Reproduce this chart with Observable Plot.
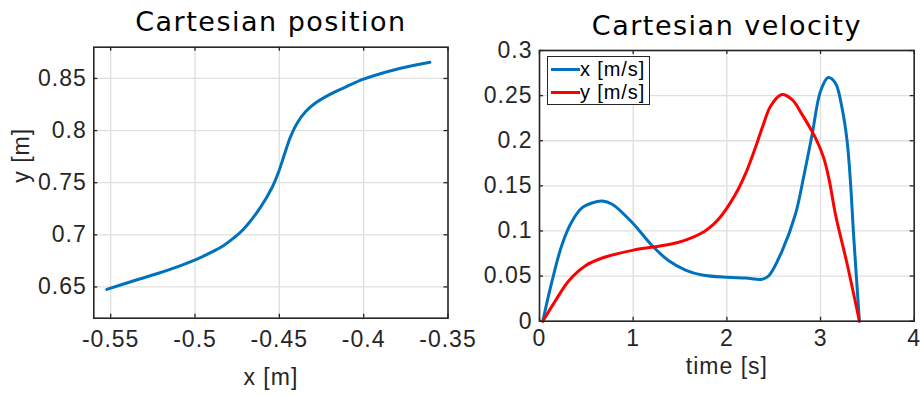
<!DOCTYPE html>
<html><head><meta charset="utf-8">
<script src="https://cdn.jsdelivr.net/npm/d3@7"></script>
<script src="https://cdn.jsdelivr.net/npm/@observablehq/plot@0.6"></script>
<style>
html,body{margin:0;padding:0;background:#fff;}
#wrap{position:relative;width:920px;height:396px;overflow:hidden;background:#fff;}
#wrap svg{position:absolute;left:0;top:0;}
.legend{position:absolute;left:547px;top:55.5px;width:103px;height:49.5px;box-sizing:border-box;border:1.5px solid #262626;background:#fff;font-family:'Liberation Sans',Arial,sans-serif;font-size:20px;letter-spacing:0.9px;color:#000;}
.legend .row{position:absolute;left:0;height:23px;}
.legend .sw{position:absolute;left:2.5px;width:29px;height:3px;}
.legend .lb{position:absolute;left:32px;white-space:nowrap;line-height:23px;}
</style></head><body><div id="wrap"></div>
<script>
// ---- data ----
const titles = ["Cartesian position", "Cartesian velocity"];
const posXLabel = "x [m]";
const posYLabel = "y [m]";
const timeLabel = "time [s]";
const seriesNames = ["x [m/s]", "y [m/s]"];
const seriesColors = ["#0072BD", "#FF0000"];

const posX = [-0.5523, -0.5380, -0.5226, -0.5110, -0.4998, -0.4910, -0.4830, -0.4770, -0.4711, -0.4612, -0.4543, -0.4505, -0.4470, -0.4434, -0.4393, -0.4345, -0.4286, -0.4197, -0.4108, -0.4001, -0.3781, -0.3607];
const posY = [0.6476, 0.6550, 0.6626, 0.6690, 0.6760, 0.6826, 0.6897, 0.6970, 0.7056, 0.7263, 0.7454, 0.7600, 0.7770, 0.7940, 0.8075, 0.8180, 0.8264, 0.8350, 0.8417, 0.8493, 0.8598, 0.8656];

const timeVx = [0.035, 0.135, 0.242, 0.349, 0.456, 0.560, 0.669, 0.776, 0.989, 1.203, 1.380, 1.558, 1.736, 2.006, 2.200, 2.376, 2.448, 2.590, 2.732, 2.820, 2.910, 2.999, 3.081, 3.159, 3.230, 3.284, 3.319, 3.355, 3.415];
const vx =     [0.000, 0.0449, 0.0854, 0.1110, 0.1258, 0.1310, 0.1332, 0.1296, 0.1093, 0.0836, 0.0670, 0.0567, 0.0512, 0.0486, 0.0478, 0.0464, 0.0504, 0.0780, 0.1185, 0.1600, 0.2068, 0.2546, 0.2701, 0.2638, 0.2362, 0.1995, 0.1553, 0.0927, 0.000];

const timeVy = [0.035, 0.171, 0.313, 0.491, 0.669, 1.003, 1.238, 1.487, 1.647, 1.760, 1.860, 1.950, 2.030, 2.120, 2.210, 2.300, 2.390, 2.465, 2.580, 2.697, 2.804, 2.946, 3.034, 3.095, 3.159, 3.284, 3.415];
const vy =     [0.000, 0.0228, 0.0449, 0.0615, 0.0700, 0.0788, 0.0825, 0.0875, 0.0935, 0.0995, 0.1075, 0.1180, 0.1300, 0.1460, 0.1660, 0.1910, 0.2180, 0.2380, 0.2510, 0.2455, 0.2289, 0.2031, 0.1810, 0.1553, 0.1185, 0.0634, 0.000];

const posXTicks = [-0.55, -0.5, -0.45, -0.4, -0.35];
const posYTicks = [0.65, 0.7, 0.75, 0.8, 0.85];
const timeTicks = [0, 1, 2, 3, 4];
const velTicks = [0, 0.05, 0.1, 0.15, 0.2, 0.25, 0.3];
const posXDomain = [-0.56, -0.35];
const posYDomain = [0.62, 0.88];
const timeDomain = [0, 4];
const velDomain = [0, 0.3];

const posData = posX.map((x, i) => ({x, y: posY[i]}));
const vxData = timeVx.map((t, i) => ({t, v: vx[i]}));
const vyData = timeVy.map((t, i) => ({t, v: vy[i]}));

const DARK = "#262626";

function panel(o) {
  const W = 920, H = 396;
  const fw = W - o.mL - o.mR, fh = H - o.mT - o.mB;
  const tk = 4;
  const marks = [
    Plot.gridX(o.xTicks, {stroke: "#dfdfdf", strokeOpacity: 1, strokeWidth: 1.3}),
    Plot.gridY(o.yTicks, {stroke: "#dfdfdf", strokeOpacity: 1, strokeWidth: 1.3}),
    Plot.tickX(o.xTicks, {x: d => d, stroke: DARK, strokeWidth: 1.3, insetTop: fh - tk}),
    Plot.tickX(o.xTicks, {x: d => d, stroke: DARK, strokeWidth: 1.3, insetBottom: fh - tk}),
    Plot.tickY(o.yTicks, {y: d => d, stroke: DARK, strokeWidth: 1.3, insetRight: fw - tk}),
    Plot.tickY(o.yTicks, {y: d => d, stroke: DARK, strokeWidth: 1.3, insetLeft: fw - tk}),
    ...o.lines,
    Plot.frame({stroke: DARK, strokeWidth: 1.6}),
    Plot.axisX(o.xTicks, {tickSize: 0, tickPadding: o.xPad, tickFormat: d => String(d), label: null, fontSize: 23}),
    Plot.axisY(o.yTicks, {tickSize: 0, tickPadding: 7, tickFormat: d => String(d), label: null, fontSize: 23}),
    Plot.text([o.title], {text: d => d, frameAnchor: "top", lineAnchor: "bottom", dy: o.titleDy, fontFamily: "DejaVu Sans", fontSize: 27, fill: "#000"}),
    Plot.text([o.xLabel], {text: d => d, frameAnchor: "bottom", lineAnchor: "bottom", dy: o.xLabelDy, fontSize: 23, fill: DARK})
  ];
  if (o.yLabel) marks.push(Plot.text([o.yLabel], {text: d => d, frameAnchor: "left", rotate: -90, lineAnchor: "bottom", dx: o.yLabelDx, fontSize: 23, fill: DARK}));
  const svg = Plot.plot({
    width: W, height: H,
    marginLeft: o.mL, marginRight: o.mR, marginTop: o.mT, marginBottom: o.mB,
    x: {domain: o.xDomain}, y: {domain: o.yDomain},
    style: {fontFamily: "'Liberation Sans', Arial, sans-serif", fontSize: "23px", letterSpacing: "1px", background: "transparent", overflow: "visible", color: DARK},
    marks
  });
  d3.select(svg).selectAll("text").filter(function () { return this.textContent === o.title; })
    .style("letter-spacing", "1.5px");
  return svg;
}

const wrap = document.getElementById("wrap");

wrap.appendChild(panel({
  mL: 93.3, mR: 920 - 447.5, mT: 46.7, mB: 396 - 317.7,
  xDomain: posXDomain, yDomain: posYDomain, xTicks: posXTicks, yTicks: posYTicks,
  lines: [Plot.line(posData, {x: "x", y: "y", stroke: seriesColors[0], strokeWidth: 3, curve: "catmull-rom"})],
  title: titles[0], titleDy: -16, xLabel: posXLabel, xLabelDy: 67, yLabel: posYLabel, yLabelDx: -65, xPad: 12
}));

wrap.appendChild(panel({
  mL: 539, mR: 920 - 913.7, mT: 50, mB: 396 - 320.7,
  xDomain: timeDomain, yDomain: velDomain, xTicks: timeTicks, yTicks: velTicks,
  lines: [
    Plot.line(vxData, {x: "t", y: "v", stroke: seriesColors[0], strokeWidth: 3, curve: "catmull-rom"}),
    Plot.line(vyData, {x: "t", y: "v", stroke: seriesColors[1], strokeWidth: 3, curve: "catmull-rom"})
  ],
  title: titles[1], titleDy: -15.7, xLabel: timeLabel, xLabelDy: 52.6, yLabel: null, xPad: 8
}));

// legend
const lg = document.createElement("div");
lg.className = "legend";
seriesNames.forEach((name, i) => {
  const row = document.createElement("div");
  row.className = "row";
  row.style.top = (i === 0 ? 1 : 24) + "px";
  const sw = document.createElement("div");
  sw.className = "sw";
  sw.style.top = "10.5px";
  sw.style.background = seriesColors[i];
  const lb = document.createElement("div");
  lb.className = "lb";
  lb.textContent = name;
  row.appendChild(sw); row.appendChild(lb);
  lg.appendChild(row);
});
wrap.appendChild(lg);
</script></body></html>
